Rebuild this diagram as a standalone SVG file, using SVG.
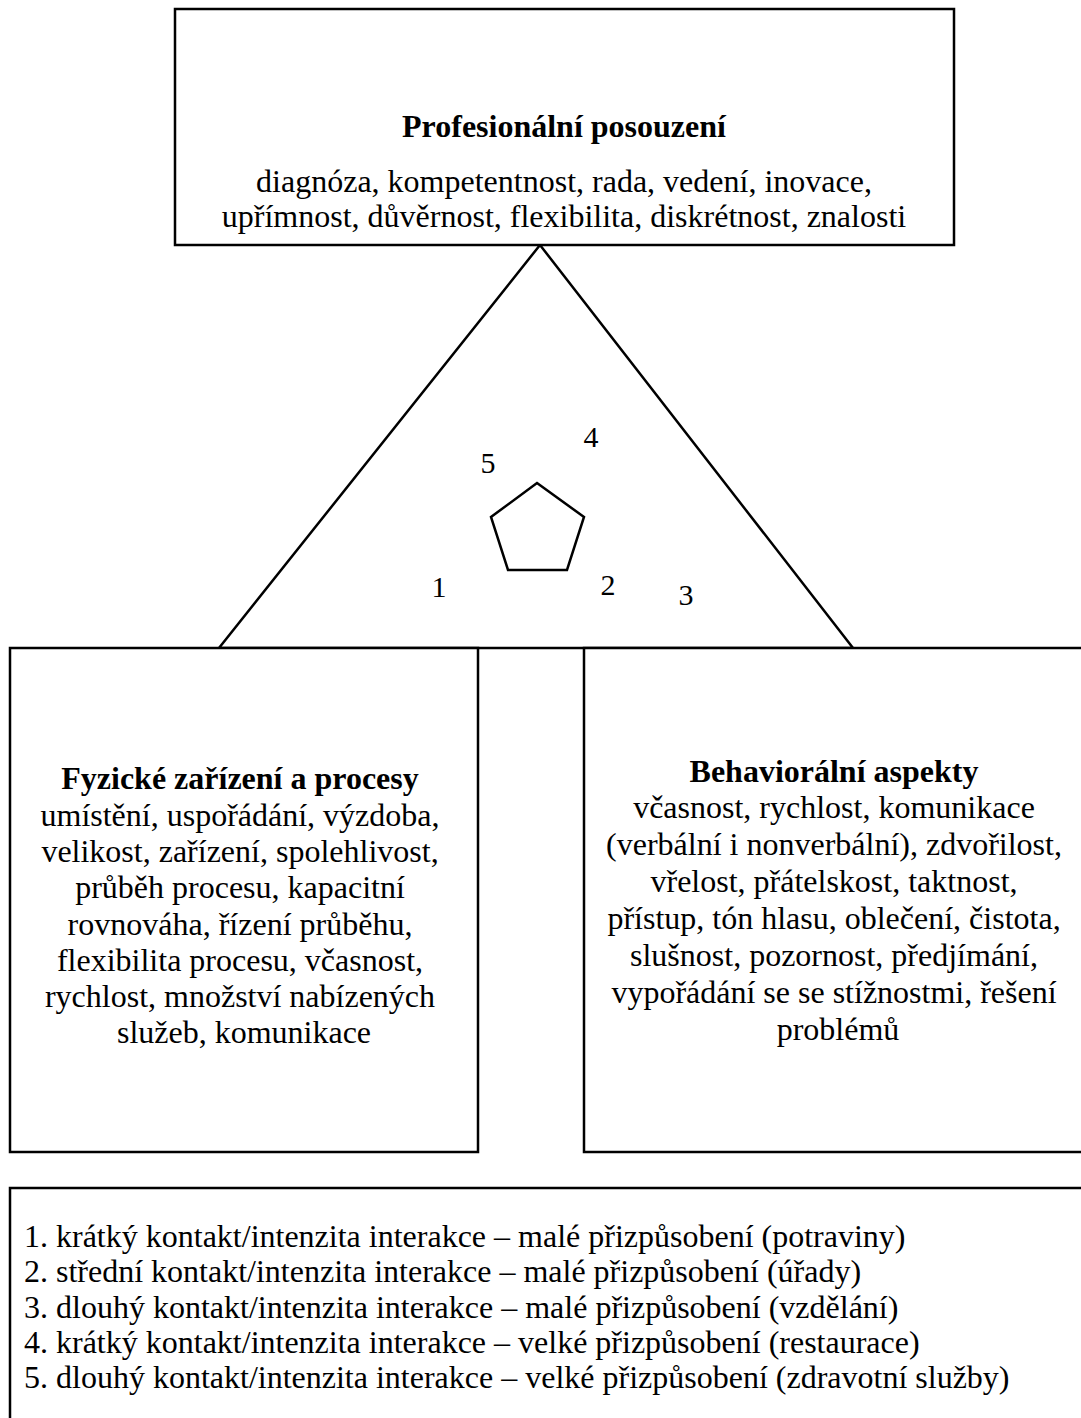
<svg xmlns="http://www.w3.org/2000/svg" width="1081" height="1418" viewBox="0 0 1081 1418">
  <style>
    .box { fill: #fff; stroke: #000; stroke-width: 2.5; }
    .edge { fill: none; stroke: #000; stroke-width: 2.5; }
    text { font-family: "Liberation Serif", "Times New Roman", serif; font-size: 32px; fill: #000; }
    .title { font-weight: bold; }
    .c { text-anchor: middle; }
    .num { font-size: 30px; }
  </style>
  <rect width="1081" height="1418" fill="#fff"/>

  <!-- connectors: triangle linking the three areas, with the pentagon inside -->
  <g id="connectors">
    <polygon class="edge" points="540,245 219,648 853,648"/>
    <polygon class="edge" points="537,483 584,517 567,570 508,570 491,517"/>
    <text class="num" x="439" y="597" text-anchor="middle">1</text>
    <text class="num" x="608" y="595" text-anchor="middle">2</text>
    <text class="num" x="686" y="605" text-anchor="middle">3</text>
    <text class="num" x="591" y="447" text-anchor="middle">4</text>
    <text class="num" x="488" y="473" text-anchor="middle">5</text>
  </g>

  <g id="node-professional">
    <rect class="box" x="175" y="9" width="779" height="236"/>
    <text class="title c" x="564" y="137">Profesionální posouzení</text>
    <text class="c" x="564" y="192">diagnóza, kompetentnost, rada, vedení, inovace,</text>
    <text class="c" x="564" y="227">upřímnost, důvěrnost, flexibilita, diskrétnost, znalosti</text>
  </g>

  <g id="node-physical">
    <rect class="box" x="10" y="648" width="468" height="504"/>
    <text class="c" x="244" y="789">
      <tspan class="title" x="244">Fyzické zařízení a procesy</tspan>
      <tspan x="244" dy="37">umístění, uspořádání, výzdoba,</tspan>
      <tspan x="244" dy="36.2">velikost, zařízení, spolehlivost,</tspan>
      <tspan x="244" dy="36.2">průběh procesu, kapacitní</tspan>
      <tspan x="244" dy="36.2">rovnováha, řízení průběhu,</tspan>
      <tspan x="244" dy="36.2">flexibilita procesu, včasnost,</tspan>
      <tspan x="244" dy="36.2">rychlost, množství nabízených</tspan>
      <tspan x="244" dy="36.2">služeb, komunikace</tspan>
    </text>
  </g>

  <g id="node-behavioral">
    <rect class="box" x="584" y="648" width="510" height="504"/>
    <text class="c" x="838" y="782">
      <tspan class="title" x="838">Behaviorální aspekty</tspan>
      <tspan x="838" dy="35.5">včasnost, rychlost, komunikace</tspan>
      <tspan x="838" dy="37.2">(verbální i nonverbální), zdvořilost,</tspan>
      <tspan x="838" dy="37">vřelost, přátelskost, taktnost,</tspan>
      <tspan x="838" dy="36.8">přístup, tón hlasu, oblečení, čistota,</tspan>
      <tspan x="838" dy="37">slušnost, pozornost, předjímání,</tspan>
      <tspan x="838" dy="37">vypořádání se se stížnostmi, řešení</tspan>
      <tspan x="838" dy="37">problémů</tspan>
    </text>
  </g>

  <g id="node-legend">
    <rect class="box" x="10" y="1188" width="1084" height="250"/>
    <text x="24" y="1247">
      <tspan x="24">1. krátký kontakt/intenzita interakce – malé přizpůsobení (potraviny)</tspan>
      <tspan x="24" dy="35.3">2. střední kontakt/intenzita interakce – malé přizpůsobení (úřady)</tspan>
      <tspan x="24" dy="35.3">3. dlouhý kontakt/intenzita interakce – malé přizpůsobení (vzdělání)</tspan>
      <tspan x="24" dy="35.3">4. krátký kontakt/intenzita interakce – velké přizpůsobení (restaurace)</tspan>
      <tspan x="24" dy="35.3">5. dlouhý kontakt/intenzita interakce – velké přizpůsobení (zdravotní služby)</tspan>
    </text>
  </g>
</svg>
